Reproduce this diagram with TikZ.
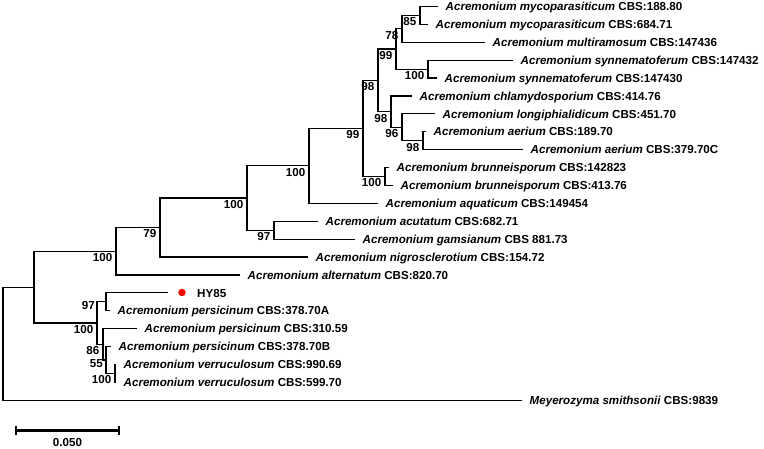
\documentclass[tikz,border=0pt]{standalone}
\usepackage{fontspec}
\setmainfont{Liberation Sans}
\newcommand\tfs{\fontsize{11.6}{13}\selectfont}
\begin{document}
\begin{tikzpicture}[x=1pt,y=-1pt,
  br/.style={line width=1.2pt, line join=miter},
  leaf/.style={anchor=base west, inner sep=0pt, font=\tfs\bfseries, xshift=7.5pt, yshift=-4.2pt},
  bs/.style={anchor=base east, inner sep=0pt, font=\tfs\bfseries, xshift=-3.5pt, yshift=-10.4pt}]
\useasboundingbox (0,0) rectangle (764,449);
% leaf tips
\coordinate (t1) at (438,6.5);
\coordinate (t2) at (428,24.4);
\coordinate (t3) at (485,42.3);
\coordinate (t4) at (513,60.2);
\coordinate (t5) at (437,78.1);
\coordinate (t6) at (412,96.0);
\coordinate (t7) at (435,113.9);
\coordinate (t8) at (426,131.8);
\coordinate (t9) at (523,149.7);
\coordinate (t10) at (389,167.6);
\coordinate (t11) at (393,185.5);
\coordinate (t12) at (378,203.4);
\coordinate (t13) at (318,221.3);
\coordinate (t14) at (355,239.2);
\coordinate (t15) at (308,257.1);
\coordinate (t16) at (240,275.0);
\coordinate (t17) at (168,292.9);
\coordinate (t18) at (110,310.8);
\coordinate (t19) at (137,328.7);
\coordinate (t20) at (111,346.6);
\coordinate (t21) at (116,364.5);
\coordinate (t22) at (116,382.4);
\coordinate (t23) at (522,400.3);
% internal nodes
\coordinate (n85) at (420,15.45);
\coordinate (n78) at (402,28.9);
\coordinate (nsyn) at (428,69.15);
\coordinate (nI) at (396,49.0);
\coordinate (nL) at (423,140.75);
\coordinate (nK) at (402,127.3);
\coordinate (nJ) at (391,111.7);
\coordinate (nH) at (378,80.3);
\coordinate (nBr) at (385,176.55);
\coordinate (nG) at (363,128.4);
\coordinate (nE) at (309,165.9);
\coordinate (nF) at (274,230.25);
\coordinate (nD) at (247,198.1);
\coordinate (nC) at (160,227.6);
\coordinate (nA) at (116,251.3);
\coordinate (nHY) at (106,301.85);
\coordinate (nV) at (115,373.45);
\coordinate (n55) at (106,360.0);
\coordinate (n86) at (103,344.35);
\coordinate (nB) at (97,323.1);
\coordinate (nIn) at (34,287.2);
\coordinate (root) at (3,343.75);
% branches
\draw[br] (t1) -| (n85);  \draw[br] (t2) -| (n85);
\draw[br] (n85) -| (n78); \draw[br] (t3) -| (n78);
\draw[br] (t4) -| (nsyn); \draw[br] (t5) -| (nsyn);
\draw[br] (n78) -| (nI);  \draw[br] (nsyn) -| (nI);
\draw[br] (t8) -| (nL);   \draw[br] (t9) -| (nL);
\draw[br] (t7) -| (nK);   \draw[br] (nL) -| (nK);
\draw[br] (t6) -| (nJ);   \draw[br] (nK) -| (nJ);
\draw[br] (nI) -| (nH);   \draw[br] (nJ) -| (nH);
\draw[br] (t10) -| (nBr); \draw[br] (t11) -| (nBr);
\draw[br] (nH) -| (nG);   \draw[br] (nBr) -| (nG);
\draw[br] (nG) -| (nE);   \draw[br] (t12) -| (nE);
\draw[br] (t13) -| (nF);  \draw[br] (t14) -| (nF);
\draw[br] (nE) -| (nD);   \draw[br] (nF) -| (nD);
\draw[br] (nD) -| (nC);   \draw[br] (t15) -| (nC);
\draw[br] (nC) -| (nA);   \draw[br] (t16) -| (nA);
\draw[br] (t17) -| (nHY); \draw[br] (t18) -| (nHY);
\draw[br] (t21) -| (nV);  \draw[br] (t22) -| (nV);
\draw[br] (t20) -| (n55); \draw[br] (nV) -| (n55);
\draw[br] (t19) -| (n86); \draw[br] (n55) -| (n86);
\draw[br] (nHY) -| (nB);  \draw[br] (n86) -| (nB);
\draw[br] (nA) -| (nIn);  \draw[br] (nB) -| (nIn);
\draw[br] (nIn) -| (root); \draw[br] (t23) -| (root);
% leaf labels
\node[leaf] (l1) at (t1) {\textit{Acremonium mycoparasiticum} CBS:188.80};
\node[leaf] (l2) at (t2) {\textit{Acremonium mycoparasiticum} CBS:684.71};
\node[leaf] (l3) at (t3) {\textit{Acremonium multiramosum} CBS:147436};
\node[leaf] (l4) at (t4) {\textit{Acremonium synnematoferum} CBS:147432};
\node[leaf] (l5) at (t5) {\textit{Acremonium synnematoferum} CBS:147430};
\node[leaf] (l6) at (t6) {\textit{Acremonium chlamydosporium} CBS:414.76};
\node[leaf] (l7) at (t7) {\textit{Acremonium longiphialidicum} CBS:451.70};
\node[leaf] (l8) at (t8) {\textit{Acremonium aerium} CBS:189.70};
\node[leaf] (l9) at (t9) {\textit{Acremonium aerium} CBS:379.70C};
\node[leaf] (l10) at (t10) {\textit{Acremonium brunneisporum} CBS:142823};
\node[leaf] (l11) at (t11) {\textit{Acremonium brunneisporum} CBS:413.76};
\node[leaf] (l12) at (t12) {\textit{Acremonium aquaticum} CBS:149454};
\node[leaf] (l13) at (t13) {\textit{Acremonium acutatum} CBS:682.71};
\node[leaf] (l14) at (t14) {\textit{Acremonium gamsianum} CBS 881.73};
\node[leaf] (l15) at (t15) {\textit{Acremonium nigrosclerotium} CBS:154.72};
\node[leaf] (l16) at (t16) {\textit{Acremonium alternatum} CBS:820.70};
\node[leaf, xshift=21.5pt] (l17) at (t17) {HY85};
\node[leaf] (l18) at (t18) {\textit{Acremonium persicinum} CBS:378.70A};
\node[leaf] (l19) at (t19) {\textit{Acremonium persicinum} CBS:310.59};
\node[leaf] (l20) at (t20) {\textit{Acremonium persicinum} CBS:378.70B};
\node[leaf] (l21) at (t21) {\textit{Acremonium verruculosum} CBS:990.69};
\node[leaf] (l22) at (t22) {\textit{Acremonium verruculosum} CBS:599.70};
\node[leaf] (l23) at (t23) {\textit{Meyerozyma smithsonii} CBS:9839};
% red marker
\node[circle, fill=red, inner sep=0pt, minimum size=7.5pt] (dot) at (182,292.5) {};
% bootstrap values
\node[bs] (b85) at (n85) {85};
\node[bs] (b78) at (n78) {78};
\node[bs] (bsyn) at (nsyn) {100};
\node[bs] (bI) at (nI) {99};
\node[bs] (bL) at (nL) {98};
\node[bs] (bK) at (nK) {96};
\node[bs] (bJ) at (nJ) {98};
\node[bs] (bH) at (nH) {98};
\node[bs] (bBr) at (nBr) {100};
\node[bs] (bG) at (nG) {99};
\node[bs] (bE) at (nE) {100};
\node[bs] (bF) at (nF) {97};
\node[bs] (bD) at (nD) {100};
\node[bs] (bC) at (nC) {79};
\node[bs] (bA) at (nA) {100};
\node[bs, xshift=-7.5pt, yshift=3.1pt] (bHY) at (nHY) {97};
\node[bs] (bV) at (nV) {100};
\node[bs, xshift=0.5pt, yshift=3.2pt] (b55) at (n55) {55};
\node[bs] (b86) at (n86) {86};
\node[bs] (bB) at (nB) {100};
% scale bar
\coordinate (sbL) at (16,430);
\coordinate (sbR) at (119,430);
\coordinate (sbLt) at (16,425.5);
\coordinate (sbLb) at (16,434.5);
\coordinate (sbRt) at (119,425.5);
\coordinate (sbRb) at (119,434.5);
\draw[line width=3pt] (sbL) -- (sbR);
\draw[line width=2.4pt] (sbLt) -- (sbLb);
\draw[line width=2.4pt] (sbRt) -- (sbRb);
\node[font=\tfs\bfseries, inner sep=0pt] (sblab) at (67.5,442.7) {0.050};
\end{tikzpicture}
\end{document}
